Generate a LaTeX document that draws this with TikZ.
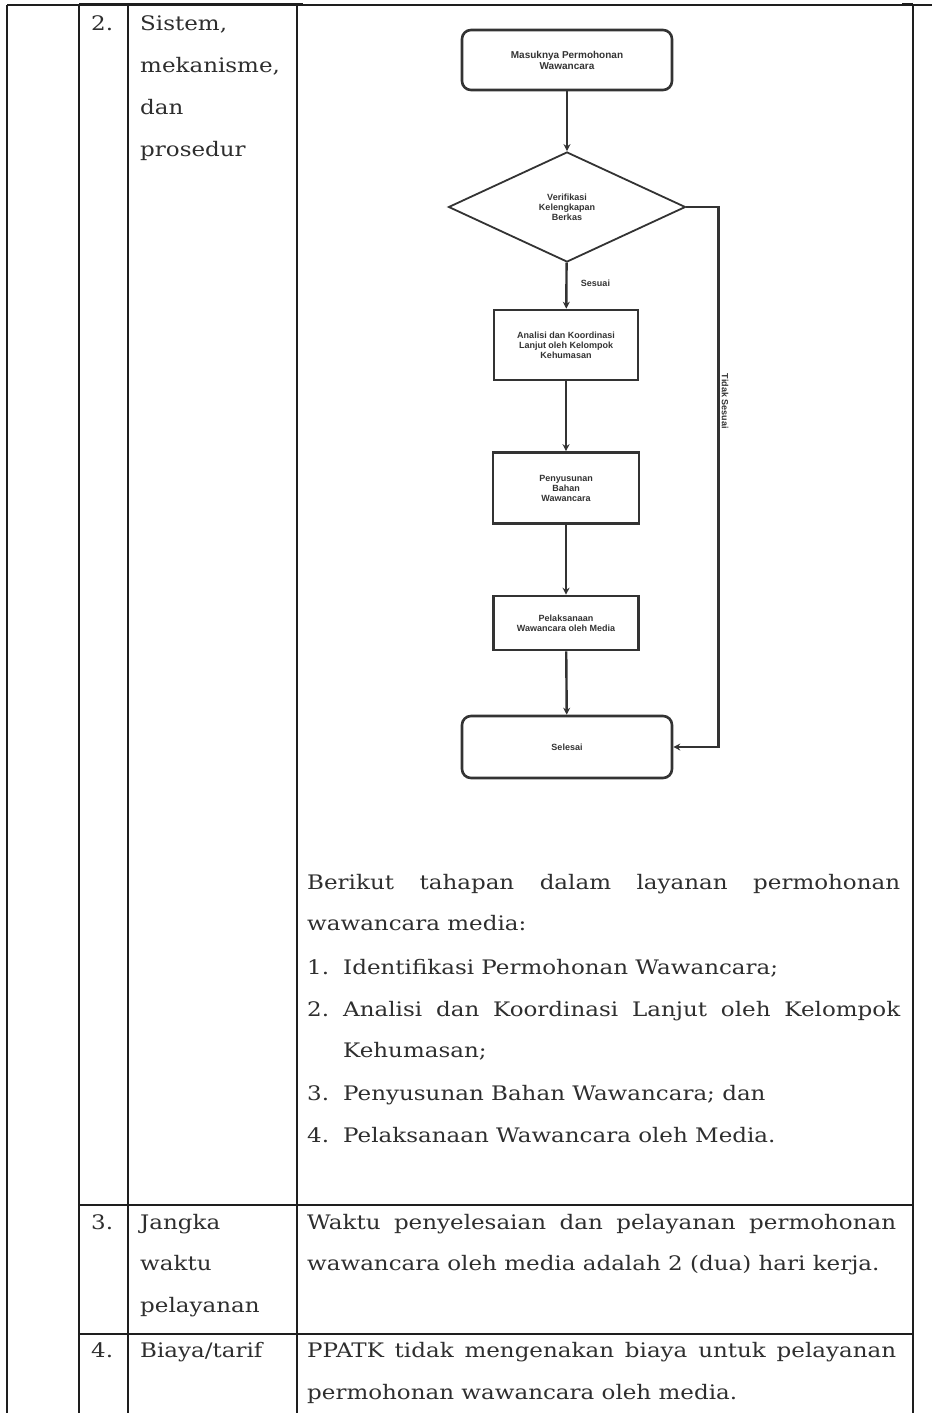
\documentclass[tikz,border=0pt]{standalone}
\usepackage{fontspec}
\setmainfont{DejaVu Serif}[FakeStretch=1.15]
\newfontfamily\chartfont{Liberation Sans}
\usetikzlibrary{arrows.meta,shapes.geometric}
\definecolor{ink}{HTML}{2E2E2E}
\definecolor{rule}{HTML}{1E1E1E}
\definecolor{chart}{HTML}{333333}
% one justified line of the given width
\newcommand\fitline[2]{\makebox[#1][s]{#2}}

\begin{document}
\begin{tikzpicture}[x=1pt,y=-1pt,
  body/.style={font=\fontsize{20}{42}\selectfont, text=ink, inner sep=0pt, anchor=base west},
  grid/.style={draw=rule, line width=1.8pt},
  chartlbl/.style={font=\chartfont\bfseries\fontsize{9}{10}\selectfont, text=chart, align=center},
  term/.style={chartlbl, draw=chart, line width=2.6pt, rounded corners=9pt, minimum width=210pt, minimum height=60pt, inner sep=2pt},
  proc/.style={chartlbl, draw=chart, line width=2.6pt, minimum width=144pt, inner sep=2pt},
  dec/.style={chartlbl, diamond, draw=chart, line width=1.8pt, minimum width=237pt, minimum height=110pt, inner sep=0pt, aspect=2},
  flow/.style={draw=chart, line width=2.4pt, -{Stealth[length=7pt,width=7pt]}},
  back/.style={draw=chart, line width=2.8pt, -{Stealth[length=7pt,width=7pt]}},
]
\useasboundingbox (0,0) rectangle (932,1413);

% table rules
\draw[grid] (7,5) -- (932,5);
\draw[rule, line width=3pt] (79,5) -- (303,5);
\draw[rule, line width=3pt] (902,5) -- (913,5);
\foreach \x in {7,79,128,297,913} \draw[grid] (\x,5) -- (\x,1413);
\draw[grid] (79,1205) -- (913,1205);
\draw[grid] (79,1334) -- (913,1334);

% row 2: left columns
\node[body] (num2) at (91,31) {2.};
\node[body] (h2a) at (140,31) {Sistem,};
\node[body] (h2b) at (140,73) {mekanisme,};
\node[body] (h2c) at (140,114) {dan};
\node[body] (h2d) at (140,156) {prosedur};

% flowchart
\node[term, font=\chartfont\bfseries\fontsize{10}{11}\selectfont] (start) at (567,60) {Masuknya Permohonan\\Wawancara};
\node[dec] (check) at (567,207) {Verifikasi\\Kelengkapan\\Berkas};
\node[proc, minimum height=70pt] (analysis) at (566,345) {Analisi dan Koordinasi\\Lanjut oleh Kelompok\\Kehumasan};
\node[proc, minimum height=71pt, minimum width=146pt] (prep) at (566,488) {Penyusunan\\Bahan\\Wawancara};
\node[proc, minimum height=54pt, minimum width=145pt] (exec) at (566,623) {Pelaksanaan\\Wawancara oleh Media};
\node[term, minimum height=62pt] (finish) at (567,747) {Selesai};

\draw[flow] (start) -- (check);
\draw[flow] (check) -- node[chartlbl, right=10pt, pos=0.45] {Sesuai} (analysis);
\draw[flow] (analysis) -- (prep);
\draw[flow] (prep) -- (exec);
\draw[flow] (exec) -- (finish);
\draw[back] (check.east) -- ++(32,0) |- (finish.east)
  node[chartlbl, pos=0.18, rotate=-90, anchor=south, inner sep=2pt] {Tidak Sesuai};

% row 2: description
\node[body] (p1) at (307,889) {\fitline{593pt}{Berikut tahapan dalam layanan permohonan}};
\node[body] (p2) at (307,930) {wawancara media:};
\node[body] (i1n) at (307,974) {1.};
\node[body] (i1) at (343,974) {Identifikasi Permohonan Wawancara;};
\node[body] (i2n) at (307,1016) {2.};
\node[body] (i2) at (343,1016) {\fitline{557pt}{Analisi dan Koordinasi Lanjut oleh Kelompok}};
\node[body] (i2b) at (343,1057) {Kehumasan;};
\node[body] (i3n) at (307,1100) {3.};
\node[body] (i3) at (343,1100) {Penyusunan Bahan Wawancara; dan};
\node[body] (i4n) at (307,1142) {4.};
\node[body] (i4) at (343,1142) {Pelaksanaan Wawancara oleh Media.};

% row 3
\node[body] (num3) at (91,1229) {3.};
\node[body] (h3a) at (140,1229) {Jangka};
\node[body] (h3b) at (140,1270) {waktu};
\node[body] (h3c) at (140,1312) {pelayanan};
\node[body] (r3a) at (307,1229) {\fitline{589pt}{Waktu penyelesaian dan pelayanan permohonan}};
\node[body] (r3b) at (307,1270) {wawancara oleh media adalah 2 (dua) hari kerja.};

% row 4
\node[body] (num4) at (91,1357) {4.};
\node[body] (h4a) at (140,1357) {Biaya/tarif};
\node[body] (r4a) at (307,1357) {\fitline{589pt}{PPATK tidak mengenakan biaya untuk pelayanan}};
\node[body] (r4b) at (307,1399) {permohonan wawancara oleh media.};
\end{tikzpicture}
\end{document}
